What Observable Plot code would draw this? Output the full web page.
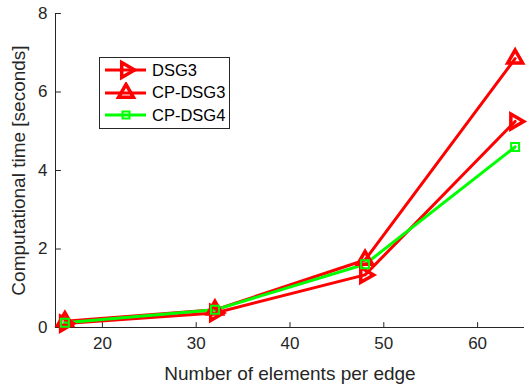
<!DOCTYPE html>
<html>
<head>
<meta charset="utf-8">
<script src="https://cdn.jsdelivr.net/npm/d3@7"></script>
<script src="https://cdn.jsdelivr.net/npm/@observablehq/plot@0.6"></script>
<style>
  html, body { margin: 0; padding: 0; background: #fff; }
  #wrap { position: relative; width: 529px; height: 389px; font-family: "Liberation Sans", Arial, sans-serif; }
  #legend { position: absolute; left: 99px; top: 57px; width: 131px; height: 72px; border: 1px solid #262626; background: #fff; box-sizing: border-box; }
  .row { position: absolute; left: 0; height: 22px; display: flex; align-items: center; }
  .row svg { display: block; }
  .row span { font-size: 16.5px; color: #000; margin-left: 2px; }
</style>
</head>
<body>
<div id="wrap"></div>
<script>
const elements = [16, 32, 48, 64];
const dsg3   = [0.10, 0.37, 1.34, 5.25];
const cpdsg3 = [0.16, 0.45, 1.72, 6.85];
const cpdsg4 = [0.12, 0.45, 1.61, 4.60];
const seriesNames = ["DSG3", "CP-DSG3", "CP-DSG4"];
const xTicks = [20, 30, 40, 50, 60];
const yTicks = [0, 2, 4, 6, 8];

const red = "#ff0000", green = "#00ff00", axisColor = "#262626";
const rows = (vals, name) => elements.map((x, i) => ({x, y: vals[i], name}));
const dDSG3 = rows(dsg3, seriesNames[0]);
const dCP3 = rows(cpdsg3, seriesNames[1]);
const dCP4 = rows(cpdsg4, seriesNames[2]);

const tickShape = {draw(ctx, l) { ctx.moveTo(0, 0); ctx.lineTo(0, -l); }};
const font = "'Liberation Sans', Arial, sans-serif";

const plot = Plot.plot({
  width: 529,
  height: 389,
  marginLeft: 55,
  marginRight: 5,
  marginTop: 13,
  marginBottom: 62,
  style: {fontFamily: font, fontSize: "17px", color: axisColor, background: "#fff"},
  x: {domain: [15, 65]},
  y: {domain: [0, 8]},
  marks: [
    Plot.ruleX([15], {stroke: axisColor, strokeWidth: 1}),
    Plot.ruleY([0], {stroke: axisColor, strokeWidth: 1}),
    Plot.vector(yTicks, {x: () => 15, y: d => d, rotate: 90, length: 5, anchor: "start", shape: tickShape, stroke: axisColor, strokeWidth: 1}),
    Plot.vector(xTicks, {x: d => d, y: () => 0, rotate: 0, length: 5, anchor: "start", shape: tickShape, stroke: axisColor, strokeWidth: 1}),
    Plot.axisY(yTicks, {tickSize: 0, tickPadding: 8, label: null, fontSize: 17, fill: axisColor}),
    Plot.axisX(xTicks, {tickSize: 0, tickPadding: 9, label: null, fontSize: 17, fill: axisColor}),
    Plot.text(["Number of elements per edge"], {frameAnchor: "bottom", dy: 46, lineAnchor: "middle", textAnchor: "middle", fontSize: 19, fill: axisColor}),
    Plot.text(["Computational time [seconds]"], {frameAnchor: "left", dx: -37, rotate: -90, textAnchor: "middle", lineAnchor: "middle", fontSize: 19, fill: axisColor}),
    Plot.line(dDSG3, {x: "x", y: "y", stroke: red, strokeWidth: 3}),
    Plot.line(dCP3, {x: "x", y: "y", stroke: red, strokeWidth: 3}),
    Plot.line(dCP4, {x: "x", y: "y", stroke: green, strokeWidth: 3}),
    Plot.dot(dDSG3, {x: "x", y: "y", symbol: "triangle", rotate: 90, r: 5.5, stroke: red, strokeWidth: 3.5, fill: "none"}),
    Plot.dot(dCP3, {x: "x", y: "y", symbol: "triangle", r: 5.5, stroke: red, strokeWidth: 3.5, fill: "none"}),
    Plot.dot(dCP4, {x: "x", y: "y", symbol: "square", r: 4.5, stroke: green, strokeWidth: 2, fill: "none"})
  ]
});

const wrap = document.getElementById("wrap");
wrap.appendChild(plot);

// legend
const legend = document.createElement("div");
legend.id = "legend";
const legendItems = [
  {name: seriesNames[0], color: red, symbol: d3.symbolTriangle, rot: 90, size: 95, sw: 3.5},
  {name: seriesNames[1], color: red, symbol: d3.symbolTriangle, rot: 0, size: 95, sw: 3.5},
  {name: seriesNames[2], color: green, symbol: d3.symbolSquare, rot: 0, size: 49, sw: 2}
];
legendItems.forEach((it, i) => {
  const row = document.createElement("div");
  row.className = "row";
  row.style.top = (1 + i * 22.5) + "px";
  const svg = d3.create("svg").attr("width", 50).attr("height", 22);
  svg.append("line").attr("x1", 5).attr("x2", 46).attr("y1", 11).attr("y2", 11)
    .attr("stroke", it.color).attr("stroke-width", 3);
  svg.append("path").attr("d", d3.symbol(it.symbol, it.size)())
    .attr("transform", `translate(26,11) rotate(${it.rot})`)
    .attr("fill", "none").attr("stroke", it.color).attr("stroke-width", it.sw);
  row.appendChild(svg.node());
  const sp = document.createElement("span");
  sp.textContent = it.name;
  row.appendChild(sp);
  legend.appendChild(row);
});
wrap.appendChild(legend);
</script>
</body>
</html>
